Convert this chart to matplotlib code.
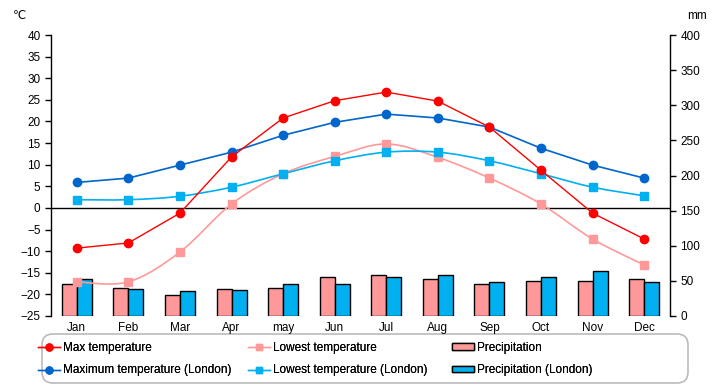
import matplotlib
matplotlib.use("Agg")
import matplotlib.pyplot as plt
import numpy as np
from matplotlib.path import Path
from matplotlib.patches import PathPatch, Patch, FancyBboxPatch
from matplotlib.lines import Line2D

months = ["Jan", "Feb", "Mar", "Apr", "may", "Jun", "Jul", "Aug", "Sep", "Oct", "Nov", "Dec"]
max_temp = [-9.3, -8.1, -1.2, 11.8, 20.8, 24.8, 26.8, 24.7, 18.7, 8.7, -1.2, -7.2]
low_temp = [-17.1, -17.1, -10.2, 0.9, 7.9, 11.9, 14.8, 11.7, 6.9, 0.9, -7.2, -13.2]
max_london = [5.9, 6.9, 9.9, 12.9, 16.8, 19.8, 21.7, 20.8, 18.7, 13.8, 9.9, 6.9]
low_london = [1.9, 1.9, 2.7, 4.8, 7.9, 10.9, 12.9, 12.9, 10.9, 7.9, 4.8, 2.8]
precip = [46, 40.5, 30.5, 39, 40.5, 55, 57.7, 52, 45, 50.5, 50.5, 52]
precip_london = [52, 39, 36, 37.7, 45, 45, 55, 59, 49, 56, 63.5, 48]

C_RED = "#FF0000"
C_PINK = "#FF9999"
C_DBLUE = "#0066CC"
C_LBLUE = "#00B0F0"
BG = "#FFFFCC"

plt.rcParams['font.family'] = ['Liberation Sans', 'DejaVu Sans']
FS = 8.5

fig = plt.figure(figsize=(7.2, 3.85), dpi=100)
ax = fig.add_axes([51/720, 1-316/385, (670-51)/720, (316-35)/385])
ax2 = ax.twinx()
ax.set_zorder(ax2.get_zorder() + 1)
ax.patch.set_visible(False)
ax2.set_facecolor(BG)

x = np.arange(len(months))

# bars
w = 0.29
ax2.bar(x - w/2, precip, width=w, color=C_PINK, edgecolor="black", linewidth=1)
ax2.bar(x + w/2, precip_london, width=w, color=C_LBLUE, edgecolor="black", linewidth=1)
ax2.set_ylim(0, 400)
ax2.set_yticks(np.arange(0, 401, 50))

def smooth_path(xs, ys):
    pts = np.column_stack([xs, ys]).astype(float)
    n = len(pts)
    verts = [pts[0]]
    codes = [Path.MOVETO]
    for i in range(n - 1):
        p0 = pts[i - 1] if i > 0 else pts[i]
        p1 = pts[i]
        p2 = pts[i + 1]
        p3 = pts[i + 2] if i + 2 < n else pts[i + 1]
        c1 = p1 + (p2 - p0) / 6.0
        c2 = p2 - (p3 - p1) / 6.0
        verts += [c1, c2, p2]
        codes += [Path.CURVE4] * 3
    return Path(verts, codes)

# lines
ax.axhline(0, color="black", linewidth=1, zorder=1)
ax.add_patch(PathPatch(smooth_path(x, low_temp), fill=False, edgecolor=C_PINK, linewidth=1.2, zorder=2))
ax.plot(x, low_temp, ls="none", marker="s", color=C_PINK, markersize=6, zorder=3)
ax.add_patch(PathPatch(smooth_path(x, low_london), fill=False, edgecolor=C_LBLUE, linewidth=1.2, zorder=2))
ax.plot(x, low_london, ls="none", marker="s", color=C_LBLUE, markersize=6, zorder=3)
ax.plot(x, max_london, ls="-", marker="o", color=C_DBLUE, markersize=6, linewidth=1.2, zorder=3)
ax.plot(x, max_temp, ls="-", marker="o", color=C_RED, markersize=6, linewidth=1.0, zorder=4)

ax.set_xlim(-0.5, 11.5)
ax.set_ylim(-25, 40)
ax.set_yticks(np.arange(-25, 41, 5))
ax.set_xticks(x)
ax.set_xticklabels(months)
ax.tick_params(axis="x", length=0, labelsize=FS, pad=4)
ax.tick_params(axis="y", length=4, width=1, labelsize=FS, direction="out")
ax2.tick_params(axis="y", length=4, width=1, labelsize=FS, direction="out")

for a in (ax, ax2):
    a.spines["top"].set_visible(False)
    a.spines["bottom"].set_visible(False)
ax.spines["right"].set_visible(False)
ax2.spines["left"].set_visible(False)
ax.spines["left"].set_linewidth(1)
ax2.spines["right"].set_linewidth(1)

fig.text(20/720, 1-16/385, "℃", fontsize=FS, ha="center", va="center")
fig.text(697/720, 1-16/385, "mm", fontsize=FS, ha="center", va="center")

# legend frame
frame = FancyBboxPatch((42/720, 2/385), 646/720, 49/385,
                       boxstyle="round,pad=0,rounding_size=0.015",
                       transform=fig.transFigure, facecolor="white",
                       edgecolor="#BBBBBB", linewidth=1.2, zorder=0, mutation_aspect=720/385)
fig.add_artist(frame)

columns = [
    ([Line2D([], [], color=C_RED, marker="o", markersize=5, linewidth=1),
      Line2D([], [], color=C_DBLUE, marker="o", markersize=5, linewidth=1)],
     ["Max temperature", "Maximum temperature (London)"], 38),
    ([Line2D([], [], color=C_PINK, marker="s", markersize=5, linewidth=1),
      Line2D([], [], color=C_LBLUE, marker="s", markersize=5, linewidth=1)],
     ["Lowest temperature", "Lowest temperature (London)"], 248),
    ([Patch(facecolor=C_PINK, edgecolor="black", linewidth=1),
      Patch(facecolor=C_LBLUE, edgecolor="black", linewidth=1)],
     ["Precipitation", "Precipitation (London)"], 452),
]
for hs, ls, xpx in columns:
    leg = fig.legend(hs, ls, loc="center left",
                     bbox_to_anchor=(xpx/720, 1-359/385),
                     fontsize=FS, frameon=False, handleheight=0.45,
                     handlelength=1.9, handletextpad=0.25, labelspacing=0.9,
                     borderaxespad=0, borderpad=0)
    fig.add_artist(leg)

fig.savefig("out.png", dpi=100)
